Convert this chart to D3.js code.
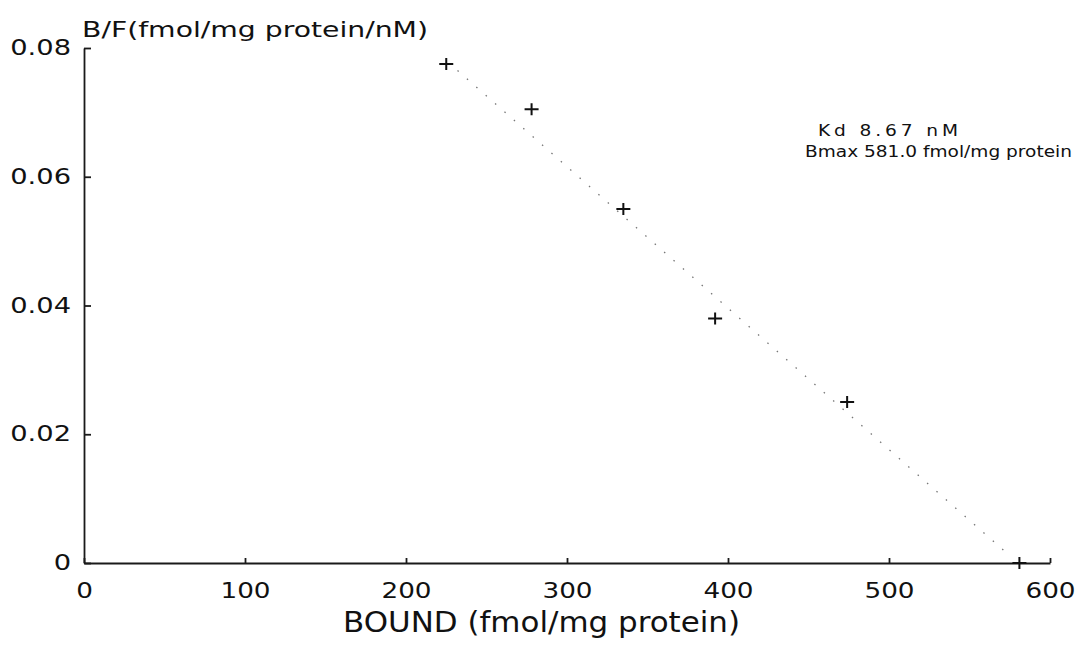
<!DOCTYPE html>
<html>
<head>
<meta charset="utf-8">
<script src="https://cdn.jsdelivr.net/npm/d3@7"></script>
<style>
  body { margin: 0; background: #fff; }
  text { font-family: "DejaVu Sans", "Liberation Sans", sans-serif; fill: #111; }
  .axis path, .axis line { stroke: #1a1a1a; stroke-width: 1.8; }
  .axis text { font-size: 21px; font-family: "DejaVu Sans", sans-serif; }
</style>
</head>
<body>
<div id="grafica"></div>
<script>
// datos
const bound = [225, 278, 335, 392, 474, 581]
const bf = [0.0775, 0.0705, 0.055, 0.038, 0.025, 0]
// recta de ajuste (extremos)
const fitBound = [232, 572]
const fitBF = [0.0765, 0.0018]
const xTicks = [0, 100, 200, 300, 400, 500, 600]
const yTicks = [0, 0.02, 0.04, 0.06, 0.08]

const anchoTotal = 1084
const altoTotal = 648

const margins = { top: 48, right: 34, bottom: 85, left: 84 }
const alto = altoTotal - margins.top - margins.bottom

const svg = d3.select("#grafica").append("svg")
    .attr("width", anchoTotal)
    .attr("height", altoTotal)

const g = svg.append("g")
    .attr("transform", `translate(${margins.left},${margins.top})`)

// Escaladores
const x = d3.scaleLinear().domain([0, 600]).range([0, 966])
const y = d3.scaleLinear().domain([0, 0.08]).range([alto, 0])

// estirar texto a lo ancho (la fuente original es mas ancha)
const estirar = (sel, f) => sel.each(function () {
    const w = this.getComputedTextLength()
    d3.select(this).attr("textLength", w * f).attr("lengthAdjust", "spacingAndGlyphs")
})

// Ejes
const xAxis = d3.axisBottom(x)
    .tickValues(xTicks)
    .tickSize(-5)
    .tickSizeOuter(0)
    .tickPadding(20)

const yAxis = d3.axisLeft(y)
    .tickValues(yTicks)
    .tickSize(-7)
    .tickSizeOuter(0)
    .tickPadding(13)
    .tickFormat(d => d === 0 ? "0" : d3.format(".2f")(d))

g.append("g")
    .classed("axis", true)
    .attr("transform", `translate(0, ${alto})`)
    .call(xAxis)
    .call(a => a.selectAll("line").attr("stroke-width", 1.2))
    .call(a => estirar(a.selectAll("text"), 1.25))

g.append("g")
    .classed("axis", true)
    .call(yAxis)
    .call(a => estirar(a.selectAll("text"), 1.3))

// Recta de ajuste (punteada)
g.append("line")
    .attr("x1", x(fitBound[0]))
    .attr("y1", y(fitBF[0]))
    .attr("x2", x(fitBound[1]))
    .attr("y2", y(fitBF[1]))
    .attr("stroke", "#777")
    .attr("stroke-width", 1.3)
    .attr("stroke-dasharray", "1.5 11")

// Puntos (cruces)
const pts = bound.map((d, i) => ({ b: d, r: bf[i] }))
g.selectAll("path.pt")
    .data(pts)
    .enter()
    .append("path")
    .attr("class", "pt")
    .attr("d", d => {
        const cx = x(d.b), cy = y(d.r)
        return `M${cx - 7},${cy}H${cx + 7}M${cx},${cy - 6}V${cy + 6}`
    })
    .attr("stroke", "#111")
    .attr("stroke-width", 2)
    .attr("fill", "none")

// Titulos
svg.append("text")
    .attr("x", 82)
    .attr("y", 37)
    .attr("font-size", 21)
    .attr("textLength", 346)
    .attr("lengthAdjust", "spacingAndGlyphs")
    .text("B/F(fmol/mg protein/nM)")

svg.append("text")
    .attr("x", 343)
    .attr("y", 632)
    .attr("font-size", 29)
    .attr("textLength", 397)
    .attr("lengthAdjust", "spacingAndGlyphs")
    .text("BOUND (fmol/mg protein)")

// Anotacion
svg.append("g")
    .attr("transform", "translate(818,136) scale(1.2,1)")
    .append("text")
    .attr("font-size", 15.5)
    .attr("textLength", 140 / 1.2)
    .attr("lengthAdjust", "spacing")
    .text("Kd 8.67 nM")

svg.append("text")
    .attr("x", 805)
    .attr("y", 157)
    .attr("font-size", 15.5)
    .attr("textLength", 267)
    .attr("lengthAdjust", "spacingAndGlyphs")
    .text("Bmax 581.0 fmol/mg protein")
</script>
</body>
</html>
